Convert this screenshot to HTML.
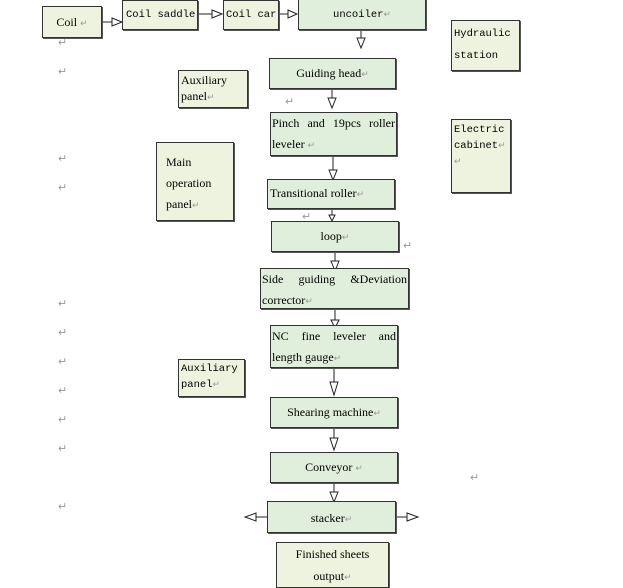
<!DOCTYPE html>
<html><head><meta charset="utf-8"><style>
body{margin:0;width:623px;height:586px;background:#fff;position:relative;overflow:hidden;font-family:"Liberation Serif",serif;font-size:12px;color:#000}
.b{position:absolute;box-sizing:border-box;border:1px solid #333;background:#e0efdb;line-height:21px;box-shadow:1px 1px 0 #555}
.c{text-align:center}
.m{font-family:"Liberation Mono",monospace;font-size:10.5px}
.n{white-space:nowrap}
.s{background:#eef3df}
.r{position:absolute;color:#999;font-size:11px}
.g{color:#999;font-size:9px}
svg{position:absolute;left:0;top:0}
</style></head><body>
<svg width="623" height="586">
<g stroke="#222" fill="#fff" stroke-width="1">
<line x1="101" y1="22" x2="112" y2="22"/><polygon points="112,18 122,22 112,26"/>
<line x1="197" y1="14" x2="212" y2="14"/><polygon points="212,10 222,14 212,18"/>
<line x1="278" y1="14" x2="288" y2="14"/><polygon points="288,10 297,14 288,18"/>
<line x1="361" y1="29" x2="361" y2="38"/><polygon points="357,38 361,48 365,38"/>
<line x1="332" y1="88" x2="332" y2="98"/><polygon points="328,98 332,108 336,98"/>
<line x1="333" y1="155" x2="333" y2="170"/><polygon points="329,170 333,180 337,170"/>
<line x1="332" y1="208" x2="332" y2="215"/><polygon points="329,215 332,221 335,215"/>
<line x1="335" y1="251" x2="335" y2="261"/><polygon points="331,261 335,271 339,261"/>
<line x1="335" y1="308" x2="335" y2="320"/><polygon points="331,320 335,328 339,320"/>
<line x1="334" y1="367" x2="334" y2="382"/><polygon points="330,382 334,395 338,382"/>
<line x1="334" y1="427" x2="334" y2="438"/><polygon points="330,438 334,450 338,438"/>
<line x1="334" y1="482" x2="334" y2="492"/><polygon points="330,492 334,502 338,492"/>
<line x1="256" y1="517" x2="267" y2="517"/><polygon points="256,513 245,517 256,521"/>
<line x1="395" y1="517" x2="407" y2="517"/><polygon points="407,513 418,517 407,521"/>
</g></svg>
<div class="b s c" style="left:42px;top:6px;width:60px;height:32px;line-height:30px">Coil <span class="g">↵</span></div>
<div class="b s m n" style="left:122px;top:0;width:76px;height:30px;padding-left:3px;line-height:28px">Coil saddle</div>
<div class="b s m n" style="left:223px;top:0;width:56px;height:30px;padding-left:2px;line-height:28px">Coil car</div>
<div class="b c m n" style="left:298px;top:-2px;width:128px;height:32px;line-height:32px">uncoiler<span class="g">↵</span></div>
<div class="b s m" style="left:451px;top:20px;width:69px;height:51px;padding:2px;line-height:22px">Hydraulic station</div>
<div class="b c" style="left:269px;top:58px;width:127px;height:31px;line-height:28px">Guiding head<span class="g">↵</span></div>
<div class="b s" style="left:178px;top:70px;width:70px;height:38px;padding:1px 2px;line-height:16px">Auxiliary panel<span class="g">↵</span></div>
<div class="b" style="left:270px;top:112px;width:127px;height:44px;line-height:21px;padding:0 1px"><div style="text-align:justify;text-align-last:justify">Pinch and 19pcs roller</div><div>leveler <span class="g">↵</span></div></div>
<div class="b s m" style="left:451px;top:119px;width:60px;height:74px;padding:2px;line-height:16px">Electric cabinet<span class="g">↵</span><br><span class="g">↵</span></div>
<div class="b s" style="left:156px;top:142px;width:78px;height:79px;padding:9px 9px;line-height:21px">Main operation panel<span class="g">↵</span></div>
<div class="b n" style="left:267px;top:179px;width:128px;height:30px;padding-left:2px;line-height:26px">Transitional roller<span class="g">↵</span></div>
<div class="b c" style="left:271px;top:221px;width:128px;height:31px;line-height:29px">loop<span class="g">↵</span></div>
<div class="b" style="left:260px;top:268px;width:149px;height:41px;padding:0 1px"><div style="text-align:justify;text-align-last:justify">Side guiding &amp;Deviation</div><div>corrector<span class="g">↵</span></div></div>
<div class="b" style="left:270px;top:325px;width:128px;height:43px;padding:0 1px"><div style="text-align:justify;text-align-last:justify">NC fine leveler and</div><div>length gauge<span class="g">↵</span></div></div>
<div class="b s m" style="left:178px;top:359px;width:67px;height:38px;padding:1px 2px;line-height:16px">Auxiliary panel<span class="g">↵</span></div>
<div class="b c" style="left:270px;top:397px;width:128px;height:31px;line-height:28px">Shearing machine<span class="g">↵</span></div>
<div class="b c" style="left:270px;top:452px;width:128px;height:31px;line-height:28px">Conveyor <span class="g">↵</span></div>
<div class="b c" style="left:267px;top:501px;width:129px;height:32px;line-height:32px">stacker<span class="g">↵</span></div>
<div class="b s c" style="left:276px;top:542px;width:113px;height:46px;line-height:22px">Finished sheets<br>output<span class="g">↵</span></div>
<div class="r" style="left:58px;top:36px">↵</div>
<div class="r" style="left:58px;top:65px">↵</div>
<div class="r" style="left:285px;top:95px">↵</div>
<div class="r" style="left:58px;top:152px">↵</div>
<div class="r" style="left:58px;top:181px">↵</div>
<div class="r" style="left:302px;top:210px">↵</div>
<div class="r" style="left:403px;top:239px">↵</div>
<div class="r" style="left:58px;top:297px">↵</div>
<div class="r" style="left:58px;top:326px">↵</div>
<div class="r" style="left:58px;top:355px">↵</div>
<div class="r" style="left:58px;top:384px">↵</div>
<div class="r" style="left:58px;top:413px">↵</div>
<div class="r" style="left:58px;top:442px">↵</div>
<div class="r" style="left:470px;top:471px">↵</div>
<div class="r" style="left:58px;top:500px">↵</div>
</body></html>
